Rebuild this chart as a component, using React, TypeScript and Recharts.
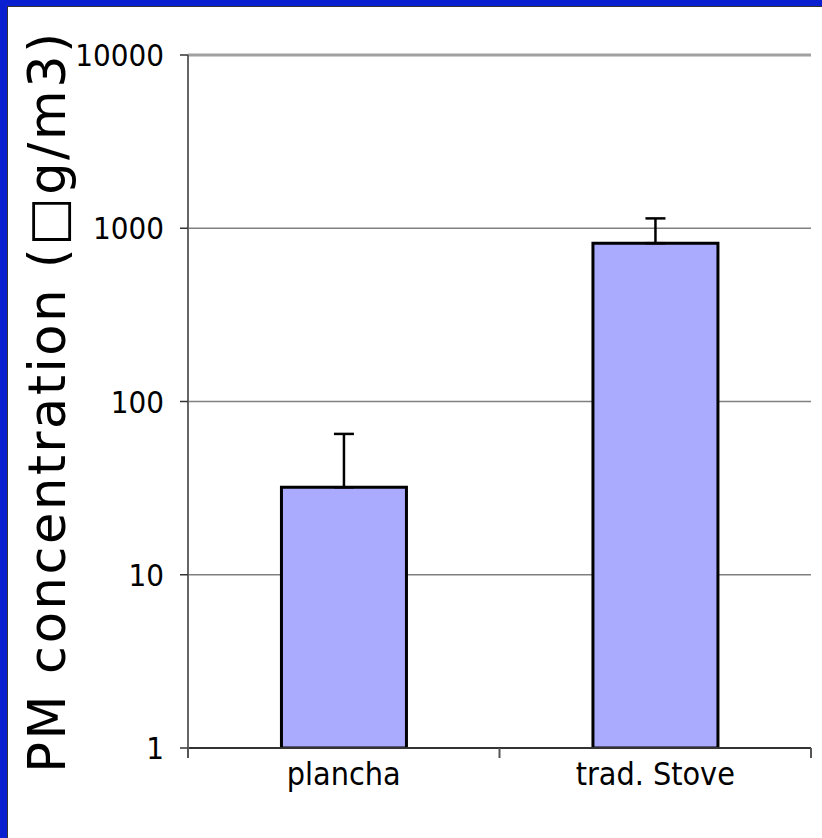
import React from 'react';
import { ComposedChart, Bar, ErrorBar, XAxis, YAxis, CartesianGrid, ReferenceLine } from 'recharts';

const stoves = ['plancha', 'trad. Stove'];
const pmMeans = [32, 820];
const pmErrors = [33, 320];
const yTicks = [1, 10, 100, 1000, 10000];

const data = stoves.map((name, i) => ({
  name,
  pm: pmMeans[i],
  err: [0, pmErrors[i]],
}));

const tickFont = "'DejaVu Sans Condensed', 'DejaVu Sans', sans-serif";

function CategoryTick(props: any) {
  const { x, y, payload, index } = props;
  const half = payload?.offset ?? 0;
  return (
    <g>
      <line x1={x - half} y1={y - 8} x2={x - half} y2={y + 2} stroke="#555" strokeWidth={2} />
      {index === stoves.length - 1 && (
        <line x1={x + half} y1={y - 8} x2={x + half} y2={y + 2} stroke="#555" strokeWidth={2} />
      )}
      <text x={x} y={y + 29} textAnchor="middle" fontSize={32} fontFamily={tickFont} fill="#000">
        {payload.value}
      </text>
    </g>
  );
}

export default function App() {
  return (
    <div style={{ position: 'absolute', left: 0, top: 0, width: 822, height: 838, background: '#0a1fcf' }}>
      <div
        style={{
          position: 'absolute',
          left: 7,
          top: 6,
          right: 0,
          bottom: 0,
          background: '#fff',
          borderTop: '1px solid #333',
          borderLeft: '1px solid #333',
        }}
      />
      <div style={{ position: 'absolute', left: 0, top: 0 }}>
        <ComposedChart
          width={822}
          height={838}
          data={data}
          margin={{ top: 55, right: 11, bottom: 0, left: 0 }}
          barCategoryGap="30%"
        >
          <CartesianGrid vertical={false} stroke="#808080" strokeWidth={1.5} />
          <XAxis
            dataKey="name"
            axisLine={{ stroke: '#333', strokeWidth: 2 }}
            tickLine={false}
            tick={<CategoryTick />}
            interval={0}
            height={90}
          />
          <YAxis
            scale="log"
            domain={[1, 10000]}
            ticks={yTicks}
            allowDataOverflow
            width={188}
            axisLine={{ stroke: '#666', strokeWidth: 2 }}
            tickLine={{ stroke: '#333', strokeWidth: 1.5 }}
            tickSize={8}
            tickMargin={16}
            tick={{ fontSize: 31, fontFamily: tickFont, fill: '#000' }}
            label={{
              value: 'PM concentration (\u25A1g/m3)',
              angle: -90,
              position: 'insideLeft',
              offset: 0,
              dx: 47,
              style: {
                textAnchor: 'middle',
                fontSize: 51,
                letterSpacing: 2.6,
                fontFamily: "'DejaVu Sans', sans-serif",
                fill: '#000',
              },
            }}
          />
          <YAxis yAxisId="frame" orientation="right" width={0} axisLine={{ stroke: '#a0a0a0', strokeWidth: 3 }} tick={false} tickLine={false} />
          <ReferenceLine y={10000} stroke="#a0a0a0" strokeWidth={3} />
          <Bar dataKey="pm" fill="#aaaaff" stroke="#000" strokeWidth={3} isAnimationActive={false}>
            <ErrorBar dataKey="err" width={10} stroke="#000" strokeWidth={2.5} direction="y" isAnimationActive={false} />
          </Bar>
        </ComposedChart>
      </div>
    </div>
  );
}
